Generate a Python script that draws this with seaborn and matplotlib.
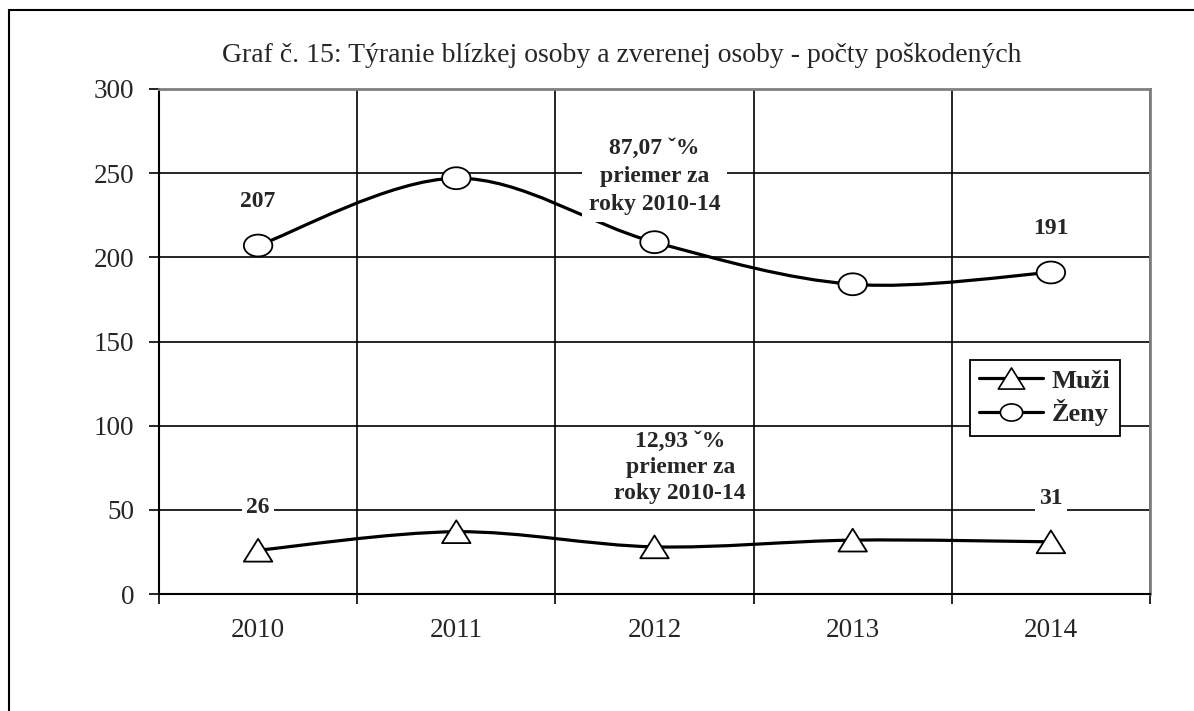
import numpy as np
import pandas as pd
import matplotlib
matplotlib.use("Agg")
import matplotlib.pyplot as plt
from matplotlib.path import Path
from matplotlib.patches import PathPatch
from matplotlib.lines import Line2D
import seaborn as sns

# data
roky = ["2010", "2011", "2012", "2013", "2014"]
muzi = [26, 37, 28, 32, 31]
zeny = [207, 247, 209, 184, 191]
popis_muzi = ["26", "", "", "", "31"]
popis_zeny = ["207", "", "", "", "191"]
priemer_muzi = "12,93 ˇ%\npriemer za\nroky 2010-14"
priemer_zeny = "87,07 ˇ%\npriemer za\nroky 2010-14"
nazov = "Graf č. 15: Týranie blízkej osoby a zverenej osoby - počty poškodených"

sns.set_theme(style="white")
plt.rcParams["font.family"] = ["Liberation Serif", "DejaVu Serif"]

df = pd.DataFrame({"rok": list(range(len(roky))) * 2,
                   "pocet": muzi + zeny,
                   "skupina": ["Muži"] * len(roky) + ["Ženy"] * len(roky)})

# markers: flattened ellipse and wide triangle (like the excel picture)
t = np.linspace(0, 2 * np.pi, 60)
elipsa = Path(np.column_stack([np.cos(t), 0.77 * np.sin(t)]), closed=True)
trojuh = Path([(0, 0.4), (-0.5, -0.4), (0.5, -0.4), (0, 0.4)], closed=True)


def hladka_krivka(x, y):
    # excel-like smoothed line: catmull-rom -> bezier
    x = np.asarray(x, float)
    y = np.asarray(y, float)
    px = np.concatenate([[x[0]], x, [x[-1]]])
    py = np.concatenate([[y[0]], y, [y[-1]]])
    verts = [(x[0], y[0])]
    codes = [Path.MOVETO]
    for i in range(1, len(px) - 2):
        c1 = (px[i] + (px[i + 1] - px[i - 1]) / 6, py[i] + (py[i + 1] - py[i - 1]) / 6)
        c2 = (px[i + 1] - (px[i + 2] - px[i]) / 6, py[i + 1] - (py[i + 2] - py[i]) / 6)
        verts += [c1, c2, (px[i + 1], py[i + 1])]
        codes += [Path.CURVE4] * 3
    return Path(verts, codes)


fig = plt.figure(figsize=(11.94, 7.11), dpi=100)
ax = fig.add_axes([159 / 1194, 1 - 594 / 711, (1150 - 159) / 1194, (594 - 89) / 711])

for hodnoty in (muzi, zeny):
    ax.add_patch(PathPatch(hladka_krivka(range(len(roky)), hodnoty), fill=False,
                           edgecolor="black", lw=2.3, zorder=3))

sns.scatterplot(data=df, x="rok", y="pocet", style="skupina",
                markers={"Muži": trojuh, "Ženy": elipsa}, s=420,
                color="white", edgecolor="black", linewidth=1.3,
                legend=False, zorder=5, ax=ax)

ax.set_xlim(-0.5, len(roky) - 0.5)
ax.set_ylim(0, 300)
ax.set_yticks(range(0, 301, 50))
ax.set_xticks(range(len(roky)))
ax.set_xticklabels(roky)
ax.set_xticks(np.arange(-0.5, len(roky), 1), minor=True)
ax.set_xlabel("")
ax.set_ylabel("")

ax.grid(axis="y", which="major", color="black", lw=1.2)
ax.grid(axis="x", which="minor", color="black", lw=1.2)
ax.grid(axis="x", which="major", visible=False)
ax.set_axisbelow(True)

ax.tick_params(axis="y", which="major", left=True, length=7, width=1.2,
               color="black", pad=11, labelsize=19.5)
ax.tick_params(axis="x", which="major", bottom=False, length=0, pad=17, labelsize=19.5)
ax.tick_params(axis="x", which="minor", bottom=True, length=7, width=1.2, color="black")
for s in ("left", "bottom"):
    ax.spines[s].set_color("black")
    ax.spines[s].set_linewidth(1.5)
for s in ("top", "right"):
    ax.spines[s].set_color("#808080")
    ax.spines[s].set_linewidth(2)

# value labels
biely = dict(facecolor="white", edgecolor="none", pad=3)
for i, txt in enumerate(popis_zeny):
    if txt:
        ax.text(i, zeny[i] + 26, txt, ha="center", va="center",
                fontsize=17, fontweight="bold", bbox=biely, zorder=6)
for i, txt in enumerate(popis_muzi):
    if txt:
        ax.text(i, muzi[i] + 25.5, txt, ha="center", va="center",
                fontsize=17, fontweight="bold", bbox=biely, zorder=6)

ax.text(2, 248, priemer_zeny, ha="center", va="center", fontsize=17,
        fontweight="bold", linespacing=1.45,
        bbox=dict(facecolor="white", edgecolor="none", pad=5), zorder=6)
ax.text(2.13, 75, priemer_muzi, ha="center", va="center", fontsize=17,
        fontweight="bold", linespacing=1.32, zorder=6)

# legend
ruky = [Line2D([], [], color="black", lw=2.3, marker=trojuh, markersize=19,
               markerfacecolor="white", markeredgecolor="black", markeredgewidth=1.2),
        Line2D([], [], color="black", lw=2.3, marker=elipsa, markersize=16,
               markerfacecolor="white", markeredgecolor="black", markeredgewidth=1.2)]
leg = ax.legend(ruky, ["Muži", "Ženy"], loc="upper left",
                bbox_to_anchor=((970 - 159) / (1150 - 159), (594 - 360) / (594 - 89)),
                frameon=True, fancybox=False, framealpha=1, edgecolor="black",
                prop={"size": 19, "weight": "bold"}, handlelength=2.4,
                handletextpad=0.35, borderpad=0.35, labelspacing=0.25,
                borderaxespad=0)
leg.get_frame().set_linewidth(1.3)
leg.set_zorder(10)

fig.text(622 / 1194, 1 - 55 / 711, nazov, ha="center", va="center", fontsize=20)

# outer frame of the picture
fig.add_artist(Line2D([9 / 1194, 9 / 1194], [0, 1 - 10 / 711], color="black", lw=1.5,
                      transform=fig.transFigure))
fig.add_artist(Line2D([9 / 1194, 1], [1 - 10 / 711, 1 - 10 / 711], color="black", lw=1.5,
                      transform=fig.transFigure))

fig.savefig("out.png", dpi=100)
